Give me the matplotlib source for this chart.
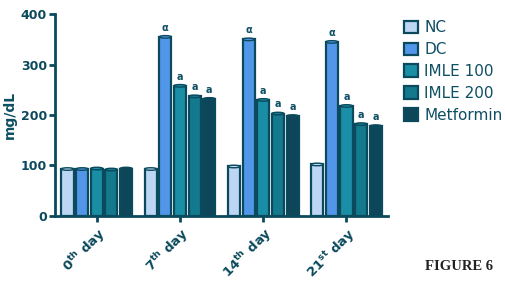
import matplotlib
matplotlib.use("Agg")
import matplotlib.pyplot as plt
import numpy as np
from matplotlib.patches import Ellipse

days = [r"0$^{\mathbf{th}}$ day", r"7$^{\mathbf{th}}$ day", r"14$^{\mathbf{th}}$ day", r"21$^{\mathbf{st}}$ day"]
groups = ["NC", "DC", "IMLE 100", "IMLE 200", "Metformin"]
nc = [93, 93, 98, 102]
dc = [93, 355, 350, 345]
imle100 = [94, 258, 230, 218]
imle200 = [92, 237, 203, 182]
metformin = [94, 232, 198, 178]
marks = [["", "", "", "", ""], ["", "α", "a", "a", "a"], ["", "α", "a", "a", "a"], ["", "α", "a", "a", "a"]]

series = [nc, dc, imle100, imle200, metformin]
colors = ["#bcd6f4", "#5296ea", "#1a8ea4", "#13798d", "#0d4658"]
edge = "#0b4a5c"
txtc = "#0d4f63"

fig = plt.figure(figsize=(5.06, 2.83), dpi=100)
ax = fig.add_axes([0.109, 0.237, 0.658, 0.713])

x = np.arange(len(days))
slot = 0.176
bw = 0.145
for i, (vals, c, name) in enumerate(zip(series, colors, groups)):
    pos = x + (i - 2) * slot
    ax.bar(pos, vals, width=bw, color=c, edgecolor=edge, linewidth=1.6, label=name, zorder=2)
    for p, v in zip(pos, vals):
        ax.add_patch(Ellipse((p, v), bw, 5, facecolor=c, edgecolor=edge, linewidth=1.0, zorder=3))
    for j, (p, v) in enumerate(zip(pos, vals)):
        m = marks[j][i]
        if m:
            ax.text(p, v + 8, m, ha="center", va="bottom", fontsize=7, color=txtc,
                    fontweight="bold", zorder=4)

ax.set_xlim(-0.5, 3.5)
ax.set_ylim(0, 400)
ax.set_yticks([0, 100, 200, 300, 400])
ax.set_xticks(x)
ax.set_xticklabels(days, rotation=45, ha="right", rotation_mode="anchor",
                   fontsize=9.5, fontweight="bold", color=txtc)
for lab in ax.get_yticklabels():
    lab.set_fontweight("bold")
    lab.set_color(txtc)
    lab.set_fontsize(9)
ax.set_ylabel("mg/dL", fontsize=10, fontweight="bold", color=txtc)
ax.yaxis.set_label_coords(-0.115, 0.5)
for s in ["top", "right"]:
    ax.spines[s].set_visible(False)
for s in ["left", "bottom"]:
    ax.spines[s].set_color(edge)
    ax.spines[s].set_linewidth(2)
ax.tick_params(axis="both", colors=edge, width=2, length=4, pad=2)

leg = ax.legend(loc="upper left", bbox_to_anchor=(1.03, 1.0), frameon=False,
                fontsize=11, handlelength=0.9, handleheight=0.9, labelspacing=0.45,
                handletextpad=0.4, borderaxespad=0)
for t in leg.get_texts():
    t.set_color(txtc)

fig.text(0.975, 0.06, "FIGURE 6", ha="right", va="center", fontsize=10.5,
         fontweight="bold", family="Liberation Serif", color="#222222")

fig.savefig("out.png", dpi=100)
